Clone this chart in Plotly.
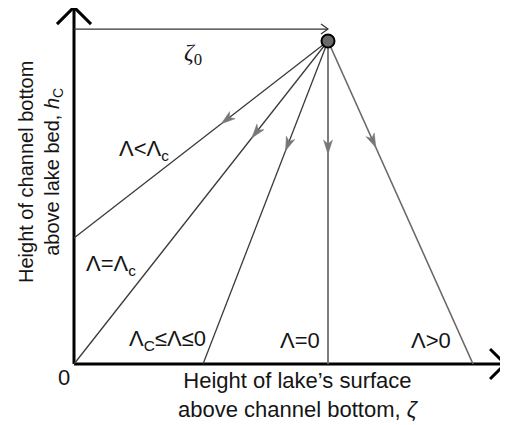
import plotly.graph_objects as go
import numpy as np

# ---------------- data (conceptual units: zeta0 = 1, h at start = 1) ----------------
source_zeta = 1.0
source_h = 1.0
end_zeta = [0.0, 0.0, 0.508, 1.0, 1.571]
end_h = [0.39, 0.0, 0.0, 0.0, 0.0]
arrow_frac = [0.42, 0.30, 0.34, 0.35, 0.33]
line_colors = ["#3a3a3a", "#3a3a3a", "#3a3a3a", "#707070", "#686868"]
line_widths = [1.3, 1.3, 1.3, 1.8, 1.6]
case_labels = ["Λ&lt;Λ<sub>c</sub>", "Λ=Λ<sub>c</sub>", "Λ<sub>C</sub>≤Λ≤0", "Λ=0", "Λ&gt;0"]
axis_len_zeta = 1.697
axis_len_h = 1.105
zeta0_arrow_h = 1.037

# ---------------- layout geometry ----------------
PAGE = 8                       # body margin of the html page
W, H = 508 - PAGE, 425 - PAGE  # figure size
OX, OY = 74 - PAGE, 364 - PAGE # figure pixel of origin
SX, SY = 254, 323              # pixels per unit

def to_px(x, y):
    return OX + x * SX, OY - y * SY

def to_data(px, py):
    return (px - OX) / SX, (OY - py) / SY

def scr(px, py):
    # screen pixel -> data
    return to_data(px - PAGE, py - PAGE)

fig = go.Figure()

def add_line(xs, ys, color, width):
    fig.add_trace(go.Scatter(x=xs, y=ys, mode="lines",
                             line=dict(color=color, width=width),
                             hoverinfo="skip", showlegend=False))

def chevron(tip_x, tip_y, ux, uy, back, half, color, width):
    tx, ty = to_px(tip_x, tip_y)
    nx, ny = -uy, ux
    p1 = to_data(tx - back * ux + half * nx, ty - back * uy + half * ny)
    p2 = to_data(tx - back * ux - half * nx, ty - back * uy - half * ny)
    add_line([p1[0], tip_x, p2[0]], [p1[1], tip_y, p2[1]], color, width)

def stealth(x0, y0, x1, y1, frac, L=14, Wd=9, color="#777777"):
    ax, ay = to_px(x0, y0)
    bx, by = to_px(x1, y1)
    dx, dy = bx - ax, by - ay
    n = np.hypot(dx, dy)
    ux, uy = dx / n, dy / n
    nx, ny = -uy, ux
    tx, ty = ax + frac * dx, ay + frac * dy
    pts = [(tx, ty),
           (tx - L * ux + Wd / 2 * nx, ty - L * uy + Wd / 2 * ny),
           (tx - 0.72 * L * ux, ty - 0.72 * L * uy),
           (tx - L * ux - Wd / 2 * nx, ty - L * uy - Wd / 2 * ny),
           (tx, ty)]
    d = [to_data(p[0], p[1]) for p in pts]
    fig.add_trace(go.Scatter(x=[p[0] for p in d], y=[p[1] for p in d],
                             mode="lines", fill="toself", fillcolor=color,
                             line=dict(color=color, width=0.5),
                             hoverinfo="skip", showlegend=False))

# axes
add_line([0, 0], [0, axis_len_h], "black", 3)
add_line([0, axis_len_zeta], [0, 0], "black", 3)
chevron(0, axis_len_h, 0, -1, 17, 17, "black", 3)
chevron(axis_len_zeta, 0, 1, 0, 15, 15, "black", 3)

# zeta0 arrow
add_line([0, source_zeta], [zeta0_arrow_h, zeta0_arrow_h], "#333333", 1.2)
chevron(source_zeta, zeta0_arrow_h, 1, 0, 7, 5, "#333333", 1.2)

# trajectories
for ez, eh, fr, c, w in zip(end_zeta, end_h, arrow_frac, line_colors, line_widths):
    add_line([source_zeta, ez], [source_h, eh], c, w)
    stealth(source_zeta, source_h, ez, eh, fr)

# start point
fig.add_trace(go.Scatter(x=[source_zeta], y=[source_h], mode="markers",
                         marker=dict(size=13, color="#6a6a6a",
                                     line=dict(color="black", width=2)),
                         hoverinfo="skip", showlegend=False))

# ---------------- text ----------------
font = dict(family="Liberation Sans, Arial, sans-serif", size=22, color="#151515")

def label(text, px, py, **kw):
    x, y = scr(px, py)
    a = dict(x=x, y=y, xref="x", yref="y", text=text, showarrow=False,
             xanchor="center", yanchor="middle", font=font)
    a.update(kw)
    fig.add_annotation(**a)

label_pos = [(144, 150), (111, 265), (167, 340), (300, 340), (431, 340)]
for t, (px, py) in zip(case_labels, label_pos):
    label(t, px, py)

label("0", 64, 377)
label("<i>ζ</i><sub>0</sub>", 193, 54,
      font=dict(family="Liberation Serif, Times New Roman, serif", size=24, color="#151515"))
label("Height of lake’s surface<br>above channel bottom, <i>ζ</i>", 298, 395)
label("Height of channel bottom<br>above lake bed, <i>h</i><sub>C</sub>", 40, 172,
      textangle=-90,
      font=dict(family="Liberation Sans, Arial, sans-serif", size=20, color="#151515"))

x_rng = [-OX / SX, (W - OX) / SX]
y_rng = [-(H - OY) / SY, OY / SY]
fig.update_layout(width=W, height=H, margin=dict(l=0, r=0, t=0, b=0),
                  paper_bgcolor="white", plot_bgcolor="white",
                  xaxis=dict(range=x_rng, visible=False, fixedrange=True),
                  yaxis=dict(range=y_rng, visible=False, fixedrange=True),
                  showlegend=False)

fig.write_html("out.html")
